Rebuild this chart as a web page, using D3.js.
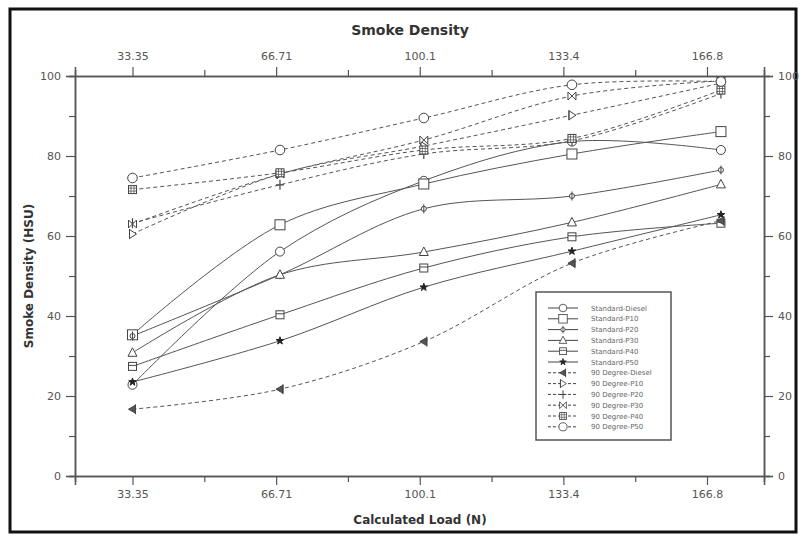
<!DOCTYPE html>
<html><head><meta charset="utf-8">
<script src="https://cdn.jsdelivr.net/npm/d3@7"></script>
<style>body{margin:0;background:#fff} svg{display:block}</style>
</head><body><svg id="c" width="805" height="540"></svg>
<script>
// ---- data ----
const loads = [33.35, 67.6, 101.0, 135.4, 170.0];
const xTicks = [33.353, 66.706, 100.059, 133.412, 166.765];
const xTickLabels = ["33.35", "66.71", "100.1", "133.4", "166.8"];
const xMinorTicks = [50.03, 83.38, 116.74, 150.09];
const yTicks = [0, 20, 40, 60, 80, 100];
const yMinorTicks = [10, 30, 50, 70, 90];

const seriesNames = ["Standard-Diesel", "Standard-P10", "Standard-P20", "Standard-P30", "Standard-P40", "Standard-P50",
  "90 Degree-Diesel", "90 Degree-P10", "90 Degree-P20", "90 Degree-P30", "90 Degree-P40", "90 Degree-P50"];
const standardDiesel = [22.8, 56.1, 73.8, 83.6, 81.5];
const standardP10 = [35.3, 62.8, 73.0, 80.5, 86.1];
const standardP20 = [35.0, 50.3, 66.8, 70.0, 76.5];
const standardP30 = [30.8, 50.3, 56.0, 63.4, 72.9];
const standardP40 = [27.4, 40.3, 52.0, 59.8, 63.2];
const standardP50 = [23.5, 33.8, 47.2, 56.2, 65.3];
const deg90Diesel = [16.7, 21.7, 33.6, 53.2, 63.8];
const deg90P10 = [60.5, 75.5, 82.5, 90.2, 98.2];
const deg90P20 = [63.2, 72.8, 80.5, 83.8, 95.6];
const deg90P30 = [63.0, 75.5, 84.0, 95.0, 98.8];
const deg90P40 = [71.6, 75.8, 81.5, 84.4, 96.5];
const deg90P50 = [74.5, 81.5, 89.5, 97.8, 98.6];

const seriesValues = [standardDiesel, standardP10, standardP20, standardP30, standardP40, standardP50,
  deg90Diesel, deg90P10, deg90P20, deg90P30, deg90P40, deg90P50];
const seriesMarkers = ["circle", "bigSquare", "circlePlus", "triangle", "squareLine", "star",
  "leftTri", "rightTri", "plus", "bowtie", "hatchSquare", "hexCircle"];
const seriesDashed = [false, false, false, false, false, false, true, true, true, true, true, true];

// ---- layout ----
const svg = d3.select("#c");
const L = 75, R = 764, T = 76, B = 476;
const x = d3.scaleLinear().domain([20, 180]).range([L, R]);
const y = d3.scaleLinear().domain([0, 100]).range([B, T]);
const axisColor = "#555", textColor = "#555";
const font = "'DejaVu Sans', sans-serif";

svg.append("rect").attr("width", 805).attr("height", 540).attr("fill", "#fff");
svg.append("rect").attr("x", 10).attr("y", 9).attr("width", 786).attr("height", 523)
  .attr("fill", "none").attr("stroke", "#111").attr("stroke-width", 3);

function styleAxis(g) {
  g.selectAll(".domain").attr("stroke", axisColor).attr("stroke-width", 1.5);
  g.selectAll(".tick line").attr("stroke", axisColor).attr("stroke-width", 1.2);
  g.selectAll(".tick text").attr("fill", textColor).attr("font-family", font).attr("font-size", 11);
}
function minor(axisFn, scale, vals) {
  return axisFn(scale).tickValues(vals).tickSize(6).tickFormat("");
}
// bottom
svg.append("g").attr("transform", `translate(0,${B})`)
  .call(minor(d3.axisBottom, x, xMinorTicks)).call(styleAxis);
svg.append("g").attr("transform", `translate(0,${B})`)
  .call(d3.axisBottom(x).tickValues(xTicks).tickSize(9).tickPadding(5).tickFormat((d, i) => xTickLabels[i]))
  .call(styleAxis);
// top
svg.append("g").attr("transform", `translate(0,${T})`)
  .call(minor(d3.axisTop, x, xMinorTicks)).call(styleAxis);
svg.append("g").attr("transform", `translate(0,${T})`)
  .call(d3.axisTop(x).tickValues(xTicks).tickSize(9).tickPadding(7).tickFormat((d, i) => xTickLabels[i]))
  .call(styleAxis);
// left
svg.append("g").attr("transform", `translate(${L},0)`)
  .call(minor(d3.axisLeft, y, yMinorTicks)).call(styleAxis);
svg.append("g").attr("transform", `translate(${L},0)`)
  .call(d3.axisLeft(y).tickValues(yTicks).tickSize(9).tickPadding(5).tickFormat(d3.format("d")))
  .call(styleAxis);
// right
svg.append("g").attr("transform", `translate(${R},0)`)
  .call(minor(d3.axisRight, y, yMinorTicks)).call(styleAxis);
svg.append("g").attr("transform", `translate(${R},0)`)
  .call(d3.axisRight(y).tickValues(yTicks).tickSize(9).tickPadding(5).tickFormat(d3.format("d")))
  .call(styleAxis);

// titles
svg.append("text").attr("x", 410).attr("y", 35).attr("text-anchor", "middle")
  .attr("font-family", font).attr("font-weight", "bold").attr("font-size", 14).attr("fill", "#333")
  .text("Smoke Density");
svg.append("text").attr("x", 420).attr("y", 524).attr("text-anchor", "middle")
  .attr("font-family", font).attr("font-weight", "bold").attr("font-size", 12).attr("fill", "#333")
  .text("Calculated Load (N)");
svg.append("text").attr("transform", `translate(33,${(T + B) / 2}) rotate(-90)`).attr("text-anchor", "middle")
  .attr("font-family", font).attr("font-weight", "bold").attr("font-size", 12).attr("fill", "#333")
  .text("Smoke Density (HSU)");

// markers
const stroke = "#444";
function drawMarker(g, type) {
  const st = sel => sel.attr("fill", "#fff").attr("stroke", stroke).attr("stroke-width", 1);
  switch (type) {
    case "circle": g.append("circle").attr("r", 4.5).call(st); break;
    case "bigSquare": g.append("rect").attr("x", -5).attr("y", -5).attr("width", 10).attr("height", 10).call(st); break;
    case "circlePlus":
      g.append("circle").attr("r", 2.5).call(st);
      g.append("path").attr("d", "M0,-4.5V4.5").attr("stroke", stroke); break;
    case "triangle": g.append("path").attr("d", "M0,-5L4.5,3.5L-4.5,3.5Z").call(st); break;
    case "squareLine":
      g.append("rect").attr("x", -4).attr("y", -4).attr("width", 8).attr("height", 8).call(st);
      g.append("path").attr("d", "M-4,-1H4").attr("stroke", stroke); break;
    case "star": g.append("path").attr("d", d3.symbol(d3.symbolStar, 18)()).attr("fill", "#222").attr("stroke", "#222"); break;
    case "leftTri":
      g.append("path").attr("d", "M-4,0L3,-4L3,4Z").attr("fill", "#555").attr("stroke", stroke);
      g.append("path").attr("d", "M3,-5V5").attr("stroke", stroke); break;
    case "rightTri":
      g.append("path").attr("d", "M-3,-4.5L4,0L-3,4.5Z").call(st);
      g.append("path").attr("d", "M-3,-5V5").attr("stroke", stroke); break;
    case "plus": g.append("path").attr("d", "M-4,0H4M0,-5V5").attr("stroke", stroke).attr("stroke-width", 1.2); break;
    case "bowtie": g.append("path").attr("d", "M-4,-4L4,4V-4L-4,4Z").call(st); break;
    case "hatchSquare":
      g.append("rect").attr("x", -4).attr("y", -4).attr("width", 8).attr("height", 8).call(st);
      g.append("path").attr("d", "M-4,-1.5H4M-4,1.5H4M-1.5,-4V4M1.5,-4V4").attr("stroke", stroke).attr("stroke-width", 0.7); break;
    case "hexCircle": g.append("circle").attr("r", 4.8).call(st); break;
  }
}

// lines
const line = d3.line().x((d, i) => x(loads[i])).y(d => y(d)).curve(d3.curveCatmullRom.alpha(0.5));
const plot = svg.append("g");
seriesValues.forEach((vals, s) => {
  plot.append("path").attr("d", line(vals)).attr("fill", "none").attr("stroke", "#555")
    .attr("stroke-width", 1).attr("stroke-dasharray", seriesDashed[s] ? "4,3" : null);
});
seriesValues.forEach((vals, s) => {
  vals.forEach((v, i) => {
    const g = plot.append("g").attr("transform", `translate(${x(loads[i])},${y(v)})`);
    drawMarker(g, seriesMarkers[s]);
  });
});

// legend
const lg = svg.append("g");
lg.append("rect").attr("x", 536).attr("y", 292).attr("width", 135).attr("height", 148)
  .attr("fill", "#fff").attr("stroke", "#555").attr("stroke-width", 1.5);
seriesNames.forEach((name, s) => {
  const yy = 308 + s * 10.8;
  lg.append("path").attr("d", `M548,${yy}H578`).attr("stroke", "#444").attr("stroke-width", 1)
    .attr("stroke-dasharray", seriesDashed[s] ? "3,2" : null);
  const g = lg.append("g").attr("transform", `translate(563,${yy}) scale(0.85)`);
  drawMarker(g, seriesMarkers[s]);
  lg.append("text").attr("x", 591).attr("y", yy + 2.5).attr("font-family", font)
    .attr("font-size", 7).attr("fill", "#666").text(name);
});
</script></body></html>
